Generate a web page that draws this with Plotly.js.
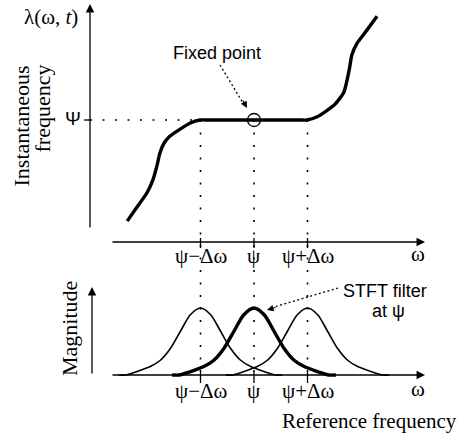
<!DOCTYPE html>
<html>
<head>
<meta charset="utf-8">
<script src="https://cdn.plot.ly/plotly-3.0.1.min.js"></script>
<style>html,body{margin:0;padding:0;background:#fff;}#chart{width:468px;height:434px;}</style>
</head>
<body>
<div id="chart"></div>
<script>
// ---- data (ω in units of Δω, measured from ψ) ----
const omegaCurve  = [-2.37, -2.19, -2.00, -1.89, -1.81, -1.76, -1.68, -1.57, -1.38, -1.20, -1.01, -0.85, 0, 0.85, 0.99, 1.18, 1.50, 1.68, 1.78, 1.83, 1.93, 2.11, 2.30];
const lambdaCurve = [-1.89, -1.63, -1.36, -1.12, -0.84, -0.62, -0.43, -0.30, -0.17, -0.06, 0, 0, 0, 0, 0, 0.06, 0.28, 0.52, 0.94, 1.22, 1.44, 1.68, 1.94];
const fixedPointOmega = [0];
const fixedPointLambda = [0];
const filterCenters = [-1, 0, 1];
const filterOffset = [-1.53, -1.40, -1.31, -1.12, -0.93, -0.75, -0.56, -0.37, -0.19, 0, 0.19, 0.37, 0.56, 0.75, 0.93, 1.12, 1.31, 1.40, 1.53];
const filterMag    = [0.00, 0.00, 0.02, 0.07, 0.13, 0.22, 0.40, 0.66, 0.90, 1.00, 0.90, 0.66, 0.40, 0.22, 0.13, 0.07, 0.02, 0.00, 0.00];
const tickVals = [-1, 0, 1];
const tickLabels = ['ψ−Δω', 'ψ', 'ψ+Δω'];

// ---- layout geometry ----
const W = 468, H = 434;
const pxPerUnit = 53.5;      // horizontal & top vertical scale
const x0px = 254;            // pixel of ψ on x
const yPsiPx = 120;          // pixel of ψ on top y
const magBasePx = 375, magUnitPx = 67;
const xRange = [-x0px / pxPerUnit, (W - x0px) / pxPerUnit];
const y2Range = [(yPsiPx - H) / pxPerUnit, yPsiPx / pxPerUnit];
const yRange = [(magBasePx - H) / magUnitPx, magBasePx / magUnitPx];
const X = px => (px - x0px) / pxPerUnit;
const L = py => (yPsiPx - py) / pxPerUnit;
const M = py => (magBasePx - py) / magUnitPx;

const serif = 'Liberation Serif, Times New Roman, serif';
const sans = 'Liberation Sans, Arial, Helvetica, sans-serif';
const black = '#000';

const traces = [];
traces.push({x: omegaCurve, y: lambdaCurve, yaxis: 'y2', mode: 'lines',
  line: {color: black, width: 3.4, shape: 'spline', smoothing: 0.55}, hoverinfo: 'skip'});
traces.push({x: fixedPointOmega, y: fixedPointLambda, yaxis: 'y2', mode: 'markers',
  marker: {symbol: 'circle-open', size: 13, color: black, line: {width: 1.3, color: black}}, hoverinfo: 'skip'});
filterCenters.forEach((c, i) => {
  traces.push({x: filterOffset.map(o => c + o), y: filterMag, yaxis: 'y', mode: 'lines',
    line: {color: black, width: c === 0 ? 3.4 : 1.6, shape: 'spline', smoothing: 0.8}, hoverinfo: 'skip'});
});

const dots = '2px,10.5px';
const shapes = [];
// vertical dotted guide lines through both panels
tickVals.forEach(v => shapes.push({type: 'line', xref: 'x', yref: 'y2', x0: v, x1: v, y0: 0, y1: L(magBasePx),
  line: {color: black, width: 1.6, dash: dots}}));
// horizontal dotted line at ψ
shapes.push({type: 'line', xref: 'x', yref: 'y2', x0: X(90), x1: X(198), y0: 0, y1: 0, line: {color: black, width: 1.6, dash: dots}});
// ψ tick on top y axis
shapes.push({type: 'line', xref: 'x', yref: 'y2', x0: X(84), x1: X(90), y0: 0, y1: 0, line: {color: black, width: 1.3}});
// ticks on x axes
tickVals.forEach(v => {
  shapes.push({type: 'line', xref: 'x', yref: 'y2', x0: v, x1: v, y0: L(238), y1: L(248), line: {color: black, width: 1.3}});
  shapes.push({type: 'line', xref: 'x', yref: 'y', x0: v, x1: v, y0: M(372), y1: M(383), line: {color: black, width: 1.3}});
});
// dotted leader lines
shapes.push({type: 'line', xref: 'x', yref: 'y2', x0: X(220), y0: L(65), x1: X(243), y1: L(103), line: {color: black, width: 1.3, dash: '2px,2.5px'}});
shapes.push({type: 'line', xref: 'x', yref: 'y', x0: X(338), y0: M(288), x1: X(274), y1: M(307), line: {color: black, width: 1.3, dash: '2px,2.5px'}});

const ann = [];
function arrow(x, y, ax, ay, yref) {
  ann.push({x: x, y: y, ax: ax, ay: ay, xref: 'x', yref: yref, axref: 'x', ayref: yref, text: '',
    showarrow: true, arrowhead: 2, arrowsize: 1.3, arrowwidth: 1.3, arrowcolor: black, standoff: 0, startstandoff: 0});
}
// axes with arrowheads
arrow(X(90), L(4), X(90), L(229), 'y2');
arrow(X(425), L(242), X(111), L(242), 'y2');
arrow(X(92), M(287), X(92), M(375), 'y');
arrow(X(425), M(375), X(111), M(375), 'y');
// small arrowheads for dotted leaders
ann.push({x: X(247), y: L(108), xref: 'x', yref: 'y2', ax: -5, ay: -9, text: '', showarrow: true,
  arrowhead: 2, arrowsize: 1.1, arrowwidth: 1.2, arrowcolor: black, standoff: 0});
ann.push({x: X(267), y: M(310), xref: 'x', yref: 'y', ax: 10, ay: -3, text: '', showarrow: true,
  arrowhead: 2, arrowsize: 1.1, arrowwidth: 1.2, arrowcolor: black, standoff: 0});

function txt(text, xpx, ypx, font, opts) {
  ann.push(Object.assign({text: text, x: xpx / W, y: 1 - ypx / H, xref: 'paper', yref: 'paper',
    xanchor: 'center', yanchor: 'middle', showarrow: false, font: font}, opts || {}));
}
const fSerif = {family: serif, size: 21, color: black};
const fSerifL = {family: serif, size: 22, color: black};
const fSans = {family: sans, size: 18, color: black};

// tick labels
tickVals.forEach((v, i) => {
  txt(tickLabels[i], x0px + v * pxPerUnit, 256, fSerif);
  txt(tickLabels[i], x0px + v * pxPerUnit, 391, fSerif);
});
txt('ω', 418, 254, fSerif);
txt('ω', 418, 389, fSerif);
txt('Ψ', 72.5, 118, {family: sans, size: 19, color: black});
txt('λ(ω, <i>t</i>)', 51, 17, fSerif);
txt('Instantaneous', 21, 126.5, fSerifL, {textangle: -90});
txt('frequency', 42, 108.5, fSerifL, {textangle: -90});
txt('Magnitude', 69, 329, fSerifL, {textangle: -90});
txt('Reference frequency', 369, 421, fSerif);
txt('Fixed point', 216.5, 53, fSans);
txt('STFT filter', 385, 291, fSans);
txt('at ψ', 388, 311, fSans);

const layout = {
  width: W, height: H, margin: {l: 0, r: 0, t: 0, b: 0, pad: 0},
  paper_bgcolor: '#fff', plot_bgcolor: '#fff', showlegend: false,
  xaxis: {range: xRange, visible: false, fixedrange: true},
  yaxis: {range: yRange, visible: false, fixedrange: true},
  yaxis2: {range: y2Range, visible: false, overlaying: 'y', fixedrange: true},
  shapes: shapes, annotations: ann
};
Plotly.newPlot('chart', traces, layout, {staticPlot: true, displayModeBar: false});
</script>
</body>
</html>
